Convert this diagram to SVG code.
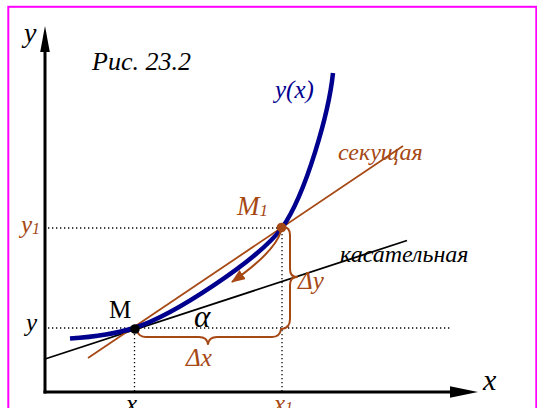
<svg xmlns="http://www.w3.org/2000/svg" width="537" height="408" viewBox="0 0 537 408">
<style>
text{font-family:"Liberation Serif","Times New Roman",serif;font-style:italic}
.k{fill:#000}
.b{fill:#A64814}
.n{fill:#00008F}
.dot{fill:none;stroke:#000;stroke-width:1.3;stroke-dasharray:1.3 2.7}
.br{fill:none;stroke:#A64814;stroke-width:2;stroke-linejoin:round;stroke-linecap:round}
</style>
<defs>
<marker id="ah" viewBox="0 0 14 11" refX="13" refY="5.5" markerWidth="14" markerHeight="11" markerUnits="userSpaceOnUse" orient="auto">
<path d="M0,0 L14,5.5 L0,11 Z" fill="#A64814"/>
</marker>
</defs>
<rect x="8.3" y="6.8" width="528" height="430" fill="#fff" stroke="#FF00FF" stroke-width="2"/>

<g id="guides">
<line class="dot" x1="48" y1="228" x2="282" y2="228"/>
<line class="dot" x1="48" y1="328" x2="452" y2="328"/>
<line class="dot" x1="134.5" y1="330" x2="134.5" y2="391"/>
<line class="dot" x1="282" y1="230" x2="282" y2="391"/>
</g>

<g id="axes">
<line x1="45" y1="393.5" x2="45" y2="50" stroke="#000" stroke-width="3"/>
<path d="M45,26 L49.8,52 L40.2,52 Z" fill="#000"/>
<line x1="43.5" y1="392" x2="452" y2="392" stroke="#000" stroke-width="3"/>
<path d="M478,392 L450,386.3 L450,397.7 Z" fill="#000"/>
</g>

<g id="connectors">
<line id="tangent" x1="45" y1="359" x2="407" y2="240.5" stroke="#000" stroke-width="1.8"/>
<line id="secant" x1="88" y1="358" x2="403" y2="146" stroke="#A64814" stroke-width="1.8"/>
<path id="curve" d="M70,338.5 C92,337 114,334.4 134,328 C174,315.2 257,260.5 282,228 C306,194 329,112 333,73" fill="none" stroke="#00008F" stroke-width="4.5" stroke-linecap="butt"/>
<path id="move-arrow" d="M281,231 C277,245 262,261 232,282" fill="none" stroke="#A64814" stroke-width="2" marker-end="url(#ah)"/>
<path id="brace-dx" class="br" d="M137,331 Q139,337 146,337 L199,337 Q207,337 208,344 Q209,337 217,337 L272,337 Q280,337 281,329"/>
<path id="brace-dy" class="br" d="M283,227 Q290,227 290,235 L290,269 Q290,277 297,277 Q290,277 290,285 L290,319 Q290,328 282,329"/>
</g>

<g id="point-M">
<circle cx="135" cy="329" r="4.8" fill="#000"/>
<text x="109" y="318" style="font-style:normal" font-size="25" class="k">M</text>
</g>
<g id="point-M1">
<circle cx="281.5" cy="227.5" r="4.8" fill="#A64814"/>
<text x="237" y="215" font-size="27" class="b">M<tspan font-size="17" dy="1">1</tspan></text>
</g>

<g id="labels">
<text x="24" y="42" font-size="28" class="k">y</text>
<text x="483" y="390" font-size="30" class="k">x</text>
<text x="92" y="70" font-size="26" class="k">Рис. 23.2</text>
<text x="275" y="98" font-size="25" class="n">y(x)</text>
<text x="338" y="160" font-size="24" class="b">секущая</text>
<text x="340" y="262" font-size="24" class="k">касательная</text>
<text x="194" y="327" font-size="31" class="k">α</text>
<text x="186" y="366" font-size="25" class="b">Δx</text>
<text x="298" y="289" font-size="25" class="b">Δy</text>
<text x="26" y="331" font-size="25" class="k">y</text>
<text x="21" y="233" font-size="25" class="b">y<tspan font-size="16" dy="1">1</tspan></text>
<text x="126" y="412" font-size="25" class="k">x</text>
<text x="274" y="412" font-size="25" class="b">x<tspan font-size="16" dy="1">1</tspan></text>
</g>
</svg>
